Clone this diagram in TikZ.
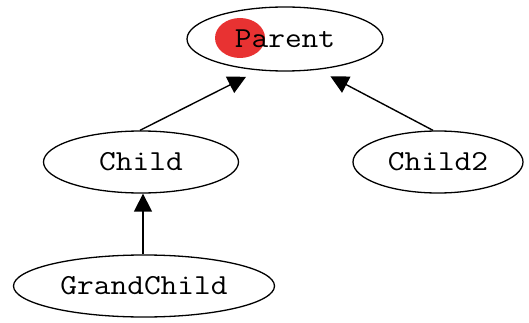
\documentclass[tikz,border=0pt]{standalone}
\usepackage{fontspec}
\newfontfamily\courfont[FakeStretch=1.12]{Latin Modern Mono}
\usetikzlibrary{shapes.geometric, arrows.meta}
\definecolor{dotred}{HTML}{E83232}
\tikzstyle{klass} = [ellipse,
draw=black,
line width=1.3pt,
inner sep=0pt,
font=\courfont\fontsize{29}{32}\selectfont]
\tikzstyle{arrow} = [line width=1.4pt,-{Triangle[length=18pt,width=18pt]}]

\begin{document}
\begin{tikzpicture}[x=1pt, y=-1pt]
        \useasboundingbox (0,0) rectangle (529,323);
        \node (dot) [ellipse, fill=dotred, minimum width=50pt, minimum height=40pt] at (240,38) {};
        \node (parent) [klass, minimum width=196pt, minimum height=64pt] at (285,39) {Parent};
        \node (child) [klass, minimum width=195pt, minimum height=62pt] at (141,162) {Child};
        \node (child2) [klass, minimum width=170pt, minimum height=62pt] at (438,162) {Child2};
        \node (grandchild) [klass, minimum width=261pt, minimum height=62pt] at (144,286) {GrandChild};

        \draw [arrow, shorten >=14pt] ([xshift=-1pt]child.north) -- (parent.230);
        \draw [arrow, shorten >=14pt] ([xshift=-5pt]child2.north) -- (parent.317);
        \draw [arrow] ([xshift=-1pt]grandchild.north) -- ([xshift=-1pt]grandchild.north |- child.south);
    \end{tikzpicture}
\end{document}
